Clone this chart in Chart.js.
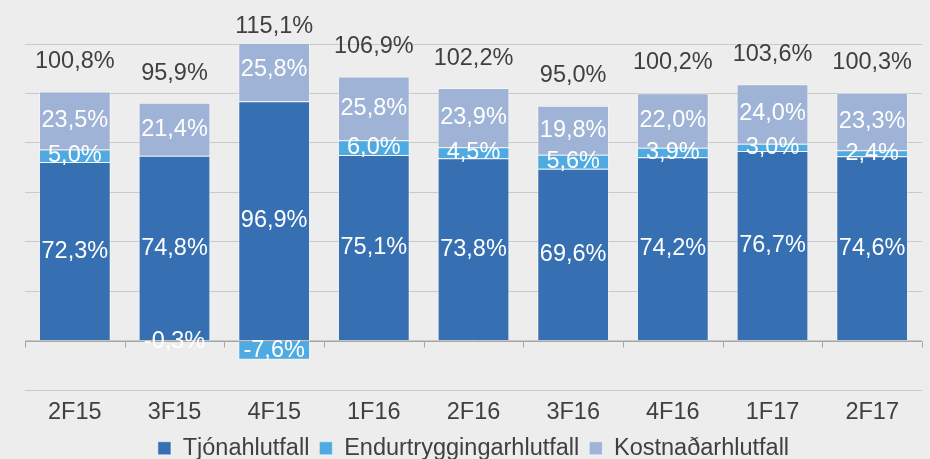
<!DOCTYPE html>
<html>
<head>
<meta charset="utf-8">
<script src="https://cdn.jsdelivr.net/npm/chart.js@4/dist/chart.umd.min.js"></script>
<style>
  html, body { margin: 0; padding: 0; background: #ededed; }
  #wrap { width: 930px; height: 459px; }
</style>
</head>
<body>
<div id="wrap"><canvas id="ratioChart"></canvas></div>
<script>
// chart data
const quarters = ['2F15', '3F15', '4F15', '1F16', '2F16', '3F16', '4F16', '1F17', '2F17'];
const tjonahlutfall = [72.3, 74.8, 96.9, 75.1, 73.8, 69.6, 74.2, 76.7, 74.6];
const endurtrygging = [5.0, -0.3, -7.6, 6.0, 4.5, 5.6, 3.9, 3.0, 2.4];
const kostnadur = [23.5, 21.4, 25.8, 25.8, 23.9, 19.8, 22.0, 24.0, 23.3];
const totals = [100.8, 95.9, 115.1, 106.9, 102.2, 95.0, 100.2, 103.6, 100.3];
const yTicks = [-20, 0, 20, 40, 60, 80, 100, 120];

const FONT = '"Liberation Sans", Arial, sans-serif';
const FSIZE = 23.5;

function fmt(v) {
    return v.toFixed(1).replace('.', ',') + '%';
}

// zero axis line with tick marks between categories (Excel style)
const zeroAxis = {
    id: 'zeroAxis',
    beforeDatasetsDraw(chart) {
        const ctx = chart.ctx;
        const x = chart.scales.x;
        const y0 = Math.round(chart.scales.y.getPixelForValue(0)) + 0.5;
        const step = (x.right - x.left) / quarters.length;
        ctx.save();
        ctx.strokeStyle = '#a6a6a6';
        ctx.lineWidth = 1;
        ctx.beginPath();
        ctx.moveTo(x.left, y0);
        ctx.lineTo(x.right, y0);
        for (let k = 0; k <= quarters.length; k++) {
            const px = Math.round(x.left + k * step) + 0.5;
            ctx.moveTo(px, y0);
            ctx.lineTo(px, y0 + 6);
        }
        ctx.stroke();
        ctx.restore();
    }
};

// value labels inside bars and totals above
const barLabels = {
    id: 'barLabels',
    afterDatasetsDraw(chart) {
        const ctx = chart.ctx;
        ctx.save();
        ctx.font = FSIZE + 'px ' + FONT;
        ctx.textAlign = 'center';
        ctx.textBaseline = 'middle';
        ctx.fillStyle = '#ffffff';
        chart.data.datasets.forEach((ds, i) => {
            const meta = chart.getDatasetMeta(i);
            meta.data.forEach((bar, j) => {
                ctx.fillText(fmt(ds.data[j]), bar.x, (bar.y + bar.base) / 2);
            });
        });
        const xs = chart.scales.x;
        const ys = chart.scales.y;
        ctx.fillStyle = '#404040';
        totals.forEach((t, j) => {
            ctx.fillText(fmt(t), xs.getPixelForValue(j), ys.getPixelForValue(t) - 30);
        });
        ctx.restore();
    }
};

const ctx = document.getElementById('ratioChart').getContext('2d');
new Chart(ctx, {
    type: 'bar',
    data: {
        labels: quarters,
        datasets: [
            {
                label: 'Tjónahlutfall',
                data: tjonahlutfall,
                backgroundColor: '#3670b2',
                borderColor: 'rgba(255,255,255,0.45)',
                borderWidth: 1
            },
            {
                label: 'Endurtryggingarhlutfall',
                data: endurtrygging,
                backgroundColor: '#4faae2',
                borderColor: 'rgba(255,255,255,0.45)',
                borderWidth: 1
            },
            {
                label: 'Kostnaðarhlutfall',
                data: kostnadur,
                backgroundColor: '#9fb3d6',
                borderColor: 'rgba(255,255,255,0.45)',
                borderWidth: 1
            }
        ]
    },
    options: {
        responsive: true,
        maintainAspectRatio: false,
        animation: false,
        layout: { padding: { left: 25, right: 8, top: 44, bottom: -11 } },
        datasets: { bar: { categoryPercentage: 1, barPercentage: 0.72 } },
        scales: {
            x: {
                stacked: true,
                grid: { display: false },
                border: { display: false },
                ticks: { color: '#404040', font: { family: FONT, size: FSIZE }, padding: 0 }
            },
            y: {
                stacked: true,
                min: -20,
                max: 120,
                afterBuildTicks(axis) {
                    axis.ticks = yTicks.map(v => ({ value: v }));
                },
                grid: { color: '#c9c9c9', drawTicks: false },
                border: { display: false },
                ticks: { display: false }
            }
        },
        plugins: {
            legend: {
                position: 'bottom',
                labels: {
                    color: '#404040',
                    font: { family: FONT, size: FSIZE },
                    boxWidth: 13,
                    boxHeight: 13,
                    padding: 10
                }
            },
            tooltip: { enabled: false }
        }
    },
    plugins: [zeroAxis, barLabels]
});
</script>
</body>
</html>
